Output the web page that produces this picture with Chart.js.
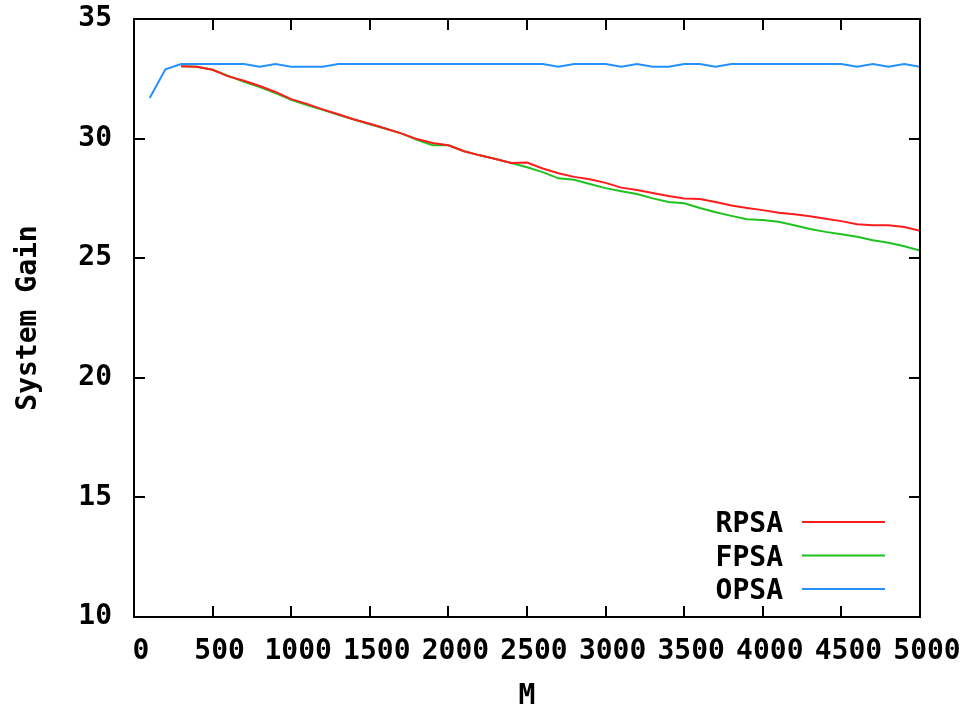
<!DOCTYPE html>
<html>
<head>
<meta charset="utf-8">
<script src="https://cdn.jsdelivr.net/npm/chart.js@4/dist/chart.umd.min.js"></script>
<style>
  html, body { margin: 0; padding: 0; background: #fff; }
  #wrap { width: 966px; height: 711px; }
</style>
</head>
<body>
<div id="wrap"><canvas id="gainChart" width="966" height="711"></canvas></div>
<script>
// M values (x axis), one point every 100
const mValues = [
  100, 200, 300, 400, 500, 600, 700, 800, 900, 1000,
  1100, 1200, 1300, 1400, 1500, 1600, 1700, 1800, 1900, 2000,
  2100, 2200, 2300, 2400, 2500, 2600, 2700, 2800, 2900, 3000,
  3100, 3200, 3300, 3400, 3500, 3600, 3700, 3800, 3900, 4000,
  4100, 4200, 4300, 4400, 4500, 4600, 4700, 4800, 4900, 5000
];

const rpsa = [
  null, null, 33.02, 33.0, 32.88, 32.6, 32.42, 32.2, 31.95, 31.65,
  31.45, 31.22, 31.02, 30.8, 30.62, 30.42, 30.22, 29.98, 29.82, 29.72,
  29.47, 29.3, 29.15, 28.98, 29.0, 28.75, 28.55, 28.4, 28.3, 28.15,
  27.95, 27.85, 27.73, 27.6, 27.5, 27.47, 27.35, 27.2, 27.1, 27.01,
  26.9, 26.84, 26.75, 26.65, 26.55, 26.42, 26.38, 26.38, 26.3, 26.15
];

const fpsa = [
  null, null, 33.02, 33.0, 32.88, 32.62, 32.37, 32.15, 31.9, 31.62,
  31.4, 31.2, 31.0, 30.8, 30.6, 30.41, 30.22, 29.95, 29.72, 29.72,
  29.47, 29.3, 29.15, 28.98, 28.8, 28.6, 28.34, 28.28, 28.1, 27.93,
  27.8, 27.68, 27.5, 27.35, 27.3, 27.1, 26.92, 26.77, 26.63, 26.6,
  26.52, 26.38, 26.22, 26.1, 26.0, 25.9, 25.75, 25.65, 25.5, 25.32
];

const opsa = [
  31.7, 32.9, 33.12, 33.12, 33.12, 33.12, 33.12, 33.0, 33.12, 33.0,
  33.0, 33.0, 33.12, 33.12, 33.12, 33.12, 33.12, 33.12, 33.12, 33.12,
  33.12, 33.12, 33.12, 33.12, 33.12, 33.12, 33.0, 33.12, 33.12, 33.12,
  33.0, 33.12, 33.0, 33.0, 33.12, 33.12, 33.0, 33.12, 33.12, 33.12,
  33.12, 33.12, 33.12, 33.12, 33.12, 33.0, 33.12, 33.0, 33.12, 33.0
];

const xTicks = [0, 500, 1000, 1500, 2000, 2500, 3000, 3500, 4000, 4500, 5000];
const yTicks = [10, 15, 20, 25, 30, 35];

const seriesNames = ['RPSA', 'FPSA', 'OPSA'];
const seriesColors = ['#ff1c1c', '#1fc21f', '#2490ff'];

const FONT = '"DejaVu Sans Mono", monospace';

function toPoints(values) {
  return mValues.map((m, i) => ({ x: m, y: values[i] }));
}

// keep the plot box where the layout puts it, labels may overhang
function fixAxis(size, prop) {
  return scale => {
    scale[prop] = size;
    scale.paddingLeft = scale.paddingRight = 0;
    scale.paddingTop = scale.paddingBottom = 0;
  };
}

// gnuplot-like frame: black border with short ticks pointing inwards
const framePlugin = {
  id: 'frame',
  afterDatasetsDraw(chart) {
    const { ctx, chartArea: a, scales } = chart;
    const len = 11;
    ctx.save();
    ctx.strokeStyle = '#000';
    ctx.lineWidth = 2;
    ctx.beginPath();
    xTicks.forEach(v => {
      const px = Math.round(scales.x.getPixelForValue(v));
      ctx.moveTo(px, a.bottom); ctx.lineTo(px, a.bottom - len);
      ctx.moveTo(px, a.top); ctx.lineTo(px, a.top + len);
    });
    yTicks.forEach(v => {
      const py = Math.round(scales.y.getPixelForValue(v));
      ctx.moveTo(a.left, py); ctx.lineTo(a.left + len, py);
      ctx.moveTo(a.right, py); ctx.lineTo(a.right - len, py);
    });
    ctx.stroke();
    ctx.strokeRect(a.left, a.top, a.right - a.left, a.bottom - a.top);
    ctx.restore();
  }
};

// key in the lower right: name, then a line sample
const keyPlugin = {
  id: 'key',
  afterDatasetsDraw(chart) {
    const { ctx } = chart;
    ctx.save();
    ctx.font = 'bold 28px ' + FONT;
    ctx.textAlign = 'right';
    ctx.textBaseline = 'middle';
    chart.data.datasets.forEach((ds, i) => {
      const y = 524 + i * 33.5;
      ctx.fillStyle = '#000';
      ctx.fillText(ds.label, 783, y + 1);
      ctx.strokeStyle = ds.borderColor;
      ctx.lineWidth = 2;
      ctx.beginPath();
      ctx.moveTo(802, y - 2);
      ctx.lineTo(885, y - 2);
      ctx.stroke();
    });
    ctx.restore();
  }
};

const ctx = document.getElementById('gainChart').getContext('2d');
const gainChart = new Chart(ctx, {
  type: 'line',
  data: {
    datasets: [rpsa, fpsa, opsa].map((vals, i) => ({
      label: seriesNames[i],
      data: toPoints(vals),
      borderColor: seriesColors[i],
      backgroundColor: seriesColors[i],
      borderWidth: 2,
      pointRadius: 0,
      tension: 0,
      spanGaps: false
    }))
  },
  options: {
    responsive: false,
    animation: false,
    layout: { padding: { top: 19, right: 46, left: 0, bottom: 0 } },
    plugins: {
      legend: { display: false },
      tooltip: { enabled: false }
    },
    scales: {
      x: {
        type: 'linear',
        min: 0,
        max: 5000,
        afterBuildTicks: scale => { scale.ticks = xTicks.map(v => ({ value: v })); },
        afterFit: fixAxis(94, 'height'),
        grid: { display: false, drawTicks: false },
        border: { display: false },
        ticks: {
          color: '#000',
          font: { family: FONT, size: 28, weight: 'bold' },
          padding: 18,
          labelOffset: 7,
          autoSkip: false,
          maxRotation: 0,
          callback: v => String(v)
        },
        title: {
          display: true,
          text: 'M',
          color: '#000',
          font: { family: FONT, size: 28, weight: 'bold', lineHeight: 1 },
          padding: { top: 0, bottom: 0 }
        }
      },
      y: {
        min: 10,
        max: 35,
        afterBuildTicks: scale => { scale.ticks = yTicks.map(v => ({ value: v })); },
        afterFit: fixAxis(134, 'width'),
        grid: { display: false, drawTicks: false },
        border: { display: false },
        ticks: {
          color: '#000',
          font: { family: FONT, size: 28, weight: 'bold' },
          padding: 22,
          callback: v => String(v)
        },
        title: {
          display: true,
          text: 'System Gain',
          color: '#000',
          font: { family: FONT, size: 28, weight: 'bold', lineHeight: 1 },
          padding: { top: 15, bottom: 0 }
        }
      }
    }
  },
  plugins: [framePlugin, keyPlugin]
});
</script>
</body>
</html>
